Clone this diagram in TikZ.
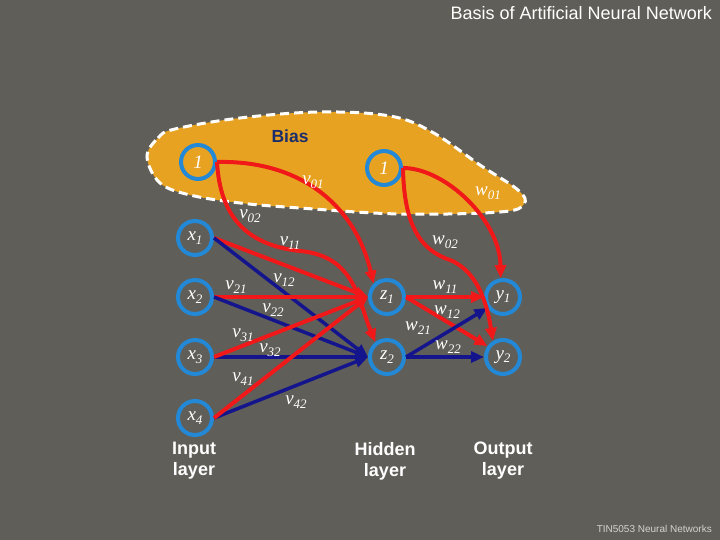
\documentclass[tikz,border=0pt]{standalone}
\usepackage{fontspec}
\setmainfont{Liberation Serif}
\newfontfamily\arialf{Liberation Sans}
\usetikzlibrary{arrows.meta}
\definecolor{bg}{HTML}{5F5E58}
\definecolor{blob}{HTML}{E8A222}
\definecolor{ring}{HTML}{2389D6}
\definecolor{rd}{HTML}{F01818}
\definecolor{nv}{HTML}{14148C}
\definecolor{biasblue}{HTML}{1B2D6B}
\definecolor{foot}{HTML}{D4D4CC}
\newcommand{\lb}[2]{\itshape #1\raisebox{-0.4ex}{\fontsize{13}{13}\selectfont #2}}
\begin{document}
\begin{tikzpicture}[x=1pt,y=-1pt,
 neuron/.style={circle,draw=ring,line width=4pt,minimum size=34pt,inner sep=0pt,text=white,font=\fontsize{19}{19}\selectfont},
 lab/.style={text=white,font=\fontsize{19}{19}\selectfont,inner sep=0pt},
 redc/.style={draw=rd,line width=4pt,-{Triangle[length=13pt,width=11pt]}},
 bluec/.style={draw=nv,line width=3.5pt,-{Triangle[length=13pt,width=11pt]}},
 layer/.style={text=white,font=\arialf\bfseries\fontsize{18}{21}\selectfont,align=center}]
\useasboundingbox (0,0) rectangle (720,540);
\fill[bg] (0,0) rectangle (720,540);
% bias blob
\draw[fill=blob,draw=white,line width=3pt,dash pattern=on 9pt off 5pt]
  plot[smooth cycle,tension=0.6] coordinates {(147,157) (158,138) (175,129) (240,118) (320,112) (390,116) (432,132) (480,165) (518,190) (524,204) (500,212) (400,214) (300,208) (240,203) (190,195) (160,183)};
\node[text=biasblue,font=\arialf\bfseries\fontsize{17.5}{20}\selectfont] (biastxt) at (290,136) {Bias};
% neurons
\node[neuron] (b1) at (198,162) {\itshape 1};
\node[neuron] (b2) at (384,168) {\itshape 1};
\node[neuron] (x1) at (195,238) {\lb{x}{1}};
\node[neuron] (x2) at (195,297) {\lb{x}{2}};
\node[neuron] (x3) at (195,357) {\lb{x}{3}};
\node[neuron] (x4) at (195,418) {\lb{x}{4}};
\node[neuron] (z1) at (387,297) {\lb{z}{1}};
\node[neuron] (z2) at (387,357) {\lb{z}{2}};
\node[neuron] (y1) at (503,297) {\lb{y}{1}};
\node[neuron] (y2) at (503,357) {\lb{y}{2}};
% input -> hidden
\draw[redc] (x1.east) -- (z1.west);
\draw[bluec] (x1.east) -- (z2.west);
\draw[redc] (x2.east) -- (z1.west);
\draw[bluec] (x2.east) -- (z2.west);
\draw[bluec] (x3.east) -- (z2.west);
\draw[redc] (x3.east) -- (z1.west);
\draw[bluec] (x4.east) -- (z2.west);
\draw[redc] (x4.east) -- (z1.west);
% hidden -> output
\draw[redc] (z1.east) -- (y1.west);
\draw[redc] (z1.east) -- (y2.145);
\draw[bluec] (z2.east) -- (y1.215);
\draw[bluec] (z2.east) -- (y2.west);
% bias curves
\draw[redc] (b1.east) .. controls (300,160) and (355,205) .. (z1.135);
\draw[redc] (b1.east) .. controls (220,215) and (245,245) .. (300,251) .. controls (355,256) and (358,300) .. (z2.128);
\draw[redc] (b2.east) .. controls (445,168) and (500,220) .. (y1.97);
\draw[redc] (b2.east) .. controls (404,225) and (420,250) .. (450,260) .. controls (480,272) and (488,310) .. (y2.122);
% weight labels
\node[lab] (lv01) at (313,182) {\lb{v}{01}};
\node[lab] (lv02) at (250,216) {\lb{v}{02}};
\node[lab] (lv11) at (290,243) {\lb{v}{11}};
\node[lab] (lv12) at (284,280) {\lb{v}{12}};
\node[lab] (lv21) at (236,287) {\lb{v}{21}};
\node[lab] (lv22) at (273,310) {\lb{v}{22}};
\node[lab] (lv31) at (243,335) {\lb{v}{31}};
\node[lab] (lv32) at (270,350) {\lb{v}{32}};
\node[lab] (lv41) at (243,379) {\lb{v}{41}};
\node[lab] (lv42) at (296,402) {\lb{v}{42}};
\node[lab] (lw01) at (488,193) {\lb{w}{01}};
\node[lab] (lw02) at (445,242) {\lb{w}{02}};
\node[lab] (lw11) at (445,287) {\lb{w}{11}};
\node[lab] (lw12) at (447,312) {\lb{w}{12}};
\node[lab] (lw21) at (418,328) {\lb{w}{21}};
\node[lab] (lw22) at (448,347) {\lb{w}{22}};
% layer captions
\node[layer] (inl) at (194,461) {Input\\layer};
\node[layer] (hidl) at (385,461) {Hidden\\layer};
\node[layer] (outl) at (503,461) {Output\\layer};
% title and footer
\node[anchor=east,text=white,font=\arialf\fontsize{18}{20}\selectfont,inner sep=0pt] (title) at (712,13) {Basis of Artificial Neural Network};
\node[anchor=east,text=foot,font=\arialf\fontsize{10}{12}\selectfont,inner sep=0pt] (footer) at (712,529) {TIN5053 Neural Networks};
\end{tikzpicture}
\end{document}
